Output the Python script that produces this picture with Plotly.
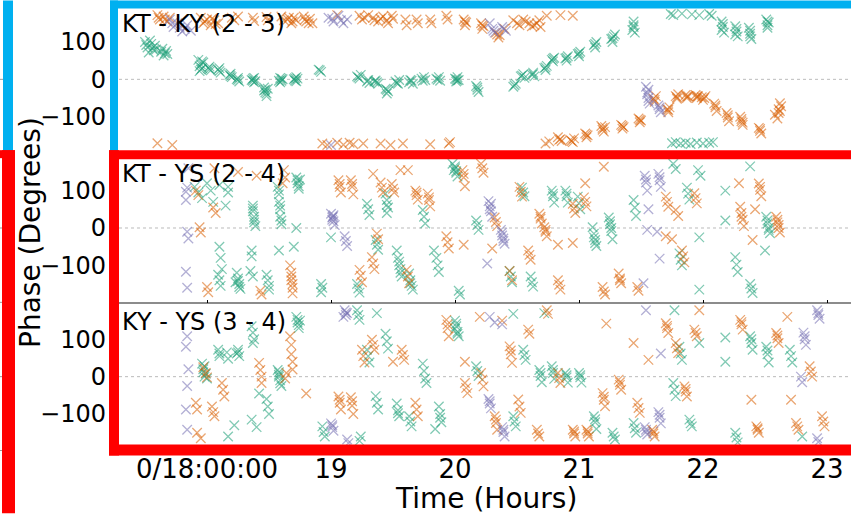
import plotly.graph_objects as go

# ---------------- data (time in hours, phase in degrees) ----------------
tick_vals = [18, 19, 20, 21, 22, 23]
tick_text = ["0/18:00:00", "19", "20", "21", "22", "23"]
panel_titles = ["KT - KY (2 - 3)", "KT - YS (2 - 4)", "KY - YS (3 - 4)"]

KTKY_green = [
    (17.50, 100), (17.52, 85), (17.55, 95), (17.57, 78), (17.53, 72), (17.58, 90),
    (17.51, 92), (17.56, 84), (17.54, 104), (17.59, 80), (17.63, 74), (17.68, 68),
    (17.64, 82), (17.66, 70), (17.65, 64), (17.67, 76),
    (17.93, 52), (17.95, 40), (17.96, 30), (17.94, 22), (17.97, 45), (17.94, 35), (17.96, 48), (17.95, 26),
    (18.01, 30), (18.03, 24), (18.02, 34), (18.02, 27), (18.09, 26), (18.11, 18), (18.10, 22), (18.10, 30),
    (18.18, 12), (18.20, 6), (18.19, 15), (18.19, 9), (18.24, 0), (18.26, -6), (18.25, 4), (18.25, -2),
    (18.36, -2), (18.38, -8), (18.37, 2), (18.39, -5), (18.37, -4), (18.38, 4),
    (18.46, -22), (18.47, -35), (18.48, -45), (18.47, -28), (18.46, -30), (18.48, -38), (18.49, -25),
    (18.58, -4), (18.60, 2), (18.59, -8), (18.61, 0), (18.59, 4), (18.60, -4),
    (18.70, 0), (18.72, 6), (18.73, 2), (18.71, -3), (18.71, 3), (18.72, -5),
    (18.90, 26), (18.92, 20), (18.91, 24),
    (19.21, 8), (19.23, 2), (19.24, 12), (19.22, 5),
    (19.29, -6), (19.31, -10), (19.35, -6), (19.38, -12), (19.36, -3), (19.30, -2), (19.37, -8),
    (19.44, -25), (19.46, -32), (19.45, -38), (19.45, -28),
    (19.52, -6), (19.54, -12), (19.55, -2), (19.53, -10),
    (19.63, -8), (19.65, -4), (19.66, -12), (19.64, -2),
    (19.73, 2), (19.75, 6), (19.76, -2), (19.74, -4), (19.85, 2), (19.87, 6), (19.88, -4), (19.86, -1),
    (20.00, 2), (20.02, 6), (20.03, -2), (20.01, -6), (20.01, 0), (20.02, -3),
    (20.17, -18), (20.18, -28), (20.19, -34), (20.18, -22),
    (20.47, -20), (20.49, -12), (20.48, -16), (20.53, 8), (20.55, 14), (20.56, 4), (20.54, 10),
    (20.62, 12), (20.64, 8), (20.63, 18), (20.63, 14),
    (20.72, 30), (20.74, 36), (20.73, 25), (20.73, 32), (20.78, 52), (20.80, 58), (20.79, 48), (20.79, 55),
    (20.89, 56), (20.91, 62), (20.90, 50), (20.90, 58), (20.99, 68), (21.01, 74), (21.00, 62), (21.00, 70),
    (21.12, 92), (21.14, 100), (21.13, 85), (21.13, 95),
    (21.26, 108), (21.28, 115), (21.27, 100), (21.29, 120), (21.27, 110),
    (21.44, 155), (21.44, 140), (21.45, 125), (21.43, 132), (21.44, 145),
    (21.74, 175), (21.76, 172), (21.83, 176), (21.91, 174), (21.97, 172), (22.05, 175), (22.07, 170),
    (22.15, 155), (22.16, 140), (22.17, 125), (22.15, 132), (22.16, 148),
    (22.26, 142), (22.27, 128), (22.28, 115), (22.26, 120), (22.27, 135),
    (22.37, 138), (22.38, 122), (22.39, 108), (22.38, 115), (22.38, 130),
    (22.51, 160), (22.53, 152), (22.52, 145), (22.52, 155), (22.52, 138),
    (21.75, -171), (21.78, -168), (21.82, -172), (21.86, -170), (21.90, -173),
    (21.95, -169), (22.00, -172), (22.05, -170), (22.08, -168),
]
KTKY_orange = [
    (17.60, 172), (17.62, 160), (17.65, 168), (17.68, 155), (17.70, 165), (17.61, 165), (17.66, 160),
    (17.95, 165), (17.97, 150), (18.00, 160), (18.03, 145), (18.06, 158), (18.09, 150),
    (17.98, 155), (18.04, 162), (18.07, 148),
    (18.20, 165), (18.22, 158), (18.25, 168), (18.37, 165), (18.38, 156), (18.48, 167),
    (18.49, 158), (18.60, 168), (18.62, 158),
    (18.65, 160), (18.68, 150), (18.70, 165), (18.72, 158), (18.66, 165), (18.69, 155),
    (18.78, 168), (18.80, 155), (18.83, 162), (18.85, 150), (18.79, 160), (18.82, 150),
    (19.05, 172), (19.23, 170), (19.25, 160), (19.27, 165), (19.30, 172),
    (19.34, 165), (19.38, 155), (19.42, 168), (19.46, 150), (19.50, 162),
    (19.35, 158), (19.40, 162), (19.45, 158), (19.49, 170),
    (19.60, 160), (19.61, 145), (19.69, 160), (19.70, 150), (19.80, 160), (19.81, 150),
    (19.93, 170), (19.94, 160),
    (20.07, 160), (20.08, 145), (20.09, 152), (20.08, 155), (20.21, 150), (20.22, 135), (20.23, 142), (20.22, 145),
    (20.33, 125), (20.35, 112), (20.36, 118), (20.40, 135), (20.34, 120),
    (20.47, 158), (20.52, 145), (20.57, 155), (20.62, 142), (20.66, 150), (20.69, 140),
    (20.50, 150), (20.55, 160), (20.60, 150), (20.64, 145), (20.68, 158),
    (20.74, 170), (20.85, 172), (20.95, 170),
    (17.60, -171), (17.72, -176),
    (18.93, -172), (18.97, -176), (19.05, -170), (19.10, -175), (19.15, -170), (19.18, -174),
    (19.26, -172), (19.40, -172), (19.48, -176), (19.58, -172), (19.80, -174), (19.95, -172), (19.96, -168),
    (20.73, -172), (20.76, -166), (20.83, -155), (20.84, -162), (20.86, -165), (20.85, -160),
    (20.93, -162), (20.95, -168), (20.96, -158), (20.94, -165),
    (21.05, -145), (21.06, -155), (21.07, -150), (21.06, -148),
    (21.18, -125), (21.19, -135), (21.20, -140), (21.21, -128), (21.19, -130),
    (21.34, -122), (21.35, -132), (21.36, -128), (21.35, -125),
    (21.48, -105), (21.49, -115), (21.50, -110), (21.49, -108),
    (21.60, -52), (21.61, -60), (21.62, -45), (21.61, -55),
    (21.71, -80), (21.72, -88), (21.73, -75), (21.72, -82),
    (21.78, -45), (21.79, -52), (21.80, -40), (21.79, -48),
    (21.86, -42), (21.87, -50), (21.88, -45), (21.87, -46),
    (21.94, -42), (21.95, -50), (21.96, -45), (21.95, -46),
    (21.99, -48), (22.00, -55), (22.02, -45), (22.01, -50),
    (22.09, -65), (22.10, -75), (22.11, -85), (22.10, -70),
    (22.19, -90), (22.20, -102), (22.21, -112), (22.20, -96),
    (22.30, -100), (22.31, -112), (22.32, -122), (22.31, -106), (22.32, -116),
    (22.45, -130), (22.46, -138), (22.47, -145), (22.46, -133),
    (22.58, -95), (22.60, -105), (22.61, -80), (22.62, -64), (22.63, -72), (22.61, -90), (22.62, -85),
]
KTKY_purple = [
    (17.70, 160), (17.73, 140), (17.76, 150), (17.80, 128), (17.84, 145), (17.87, 130),
    (17.72, 150), (17.78, 138), (17.82, 135),
    (18.98, 165), (19.02, 155), (19.06, 170), (19.10, 150), (19.13, 160), (19.01, 162), (19.08, 158),
    (19.00, -176),
    (20.28, 150), (20.30, 135), (20.32, 125), (20.38, 140), (20.41, 130), (20.31, 130), (20.39, 135),
    (21.54, -20), (21.55, -35), (21.56, -50), (21.57, -65), (21.56, -28), (21.55, -40), (21.56, -58),
    (21.64, -70), (21.65, -80), (21.66, -88), (21.65, -75),
]

KTYS_green = [
    (17.90, 110), (17.93, 95), (17.96, 80), (18.00, 120), (18.03, 100), (18.05, 70),
    (18.10, 115), (18.17, 110), (18.17, 95), (18.15, 60),
    (18.37, 60), (18.37, 45), (18.38, 30), (18.38, 15), (18.39, 5), (18.37, 52), (18.38, 22),
    (18.57, 110), (18.58, 90), (18.58, 70), (18.59, 50), (18.59, 30), (18.60, 10),
    (18.58, 100), (18.59, 60), (18.60, 20),
    (18.72, 135), (18.73, 120), (18.74, 105), (18.75, 130), (18.73, 128), (18.74, 112),
    (18.72, 0), (18.70, -50),
    (18.10, -50), (18.11, -80), (18.12, -110), (18.09, -125), (18.10, -140), (18.11, -155),
    (18.24, -120), (18.25, -135), (18.26, -150), (18.27, -163), (18.23, -145), (18.25, -142), (18.26, -158),
    (18.36, -60), (18.36, -76), (18.35, -115), (18.37, -130),
    (18.48, -125), (18.49, -140), (18.50, -155), (18.50, -165), (18.58, -60),
    (18.92, -150), (18.93, -160), (18.92, -172), (19.00, -25),
    (19.21, -150), (19.22, -162), (19.23, -173),
    (19.29, 65), (19.30, 50), (19.31, 35), (19.36, -32), (19.37, -45), (19.38, -58),
    (19.44, 92), (19.45, 75), (19.46, 55), (19.45, 40), (19.45, 62),
    (19.53, -60), (19.54, -80), (19.55, -100), (19.56, -120), (19.57, -130), (19.55, -90), (19.56, -110),
    (19.63, -122), (19.64, -140), (19.65, -155), (19.66, -165), (19.64, -148),
    (19.74, 48), (19.75, 30), (19.76, 12),
    (19.83, -60), (19.85, -80), (19.86, -100), (19.87, -118),
    (19.98, 172), (20.00, 160), (20.01, 148), (20.02, 138), (19.99, 155), (20.00, 165), (20.01, 152),
    (20.03, -168), (20.04, -178), (20.17, 20), (20.18, 8), (20.19, -5),
    (20.44, -115), (20.45, -130), (20.46, -145), (20.54, 108), (20.55, 95), (20.56, 85),
    (20.61, -130), (20.62, -145), (20.63, -157),
    (20.78, 100), (20.79, 85), (20.80, 68), (20.79, 92), (20.89, 100), (20.90, 85), (20.91, 68), (20.90, 92),
    (20.99, 84), (21.00, 66), (21.01, 50),
    (21.11, 2), (21.12, -15), (21.13, -32), (21.14, -48), (21.12, -25), (21.13, -40),
    (21.24, 28), (21.25, 10), (21.26, -8), (21.27, -30), (21.25, 18), (21.26, 0),
    (21.44, 75), (21.45, 55), (21.46, 32), (21.76, 172), (21.78, 158),
    (21.81, -68), (21.82, -85), (21.83, -100), (21.87, 108), (21.88, 92), (21.89, 76),
    (21.96, 155), (21.98, 140), (21.97, -165), (21.97, -25),
    (22.18, 100), (22.18, 20), (22.26, -78), (22.27, -98), (22.28, -118),
    (22.38, -150), (22.39, -162), (22.40, -174),
    (22.51, 30), (22.52, 12), (22.53, -5), (22.54, -14), (22.52, 20), (22.53, 0),
    (22.50, -60), (22.38, 165),
]
KTYS_orange = [
    (17.91, 100), (17.93, 88), (18.05, 55), (18.07, 40), (17.94, 2), (17.95, -12),
    (18.00, -158), (18.01, -172), (18.43, -168), (18.44, -178),
    (18.67, -100), (18.68, -120), (18.68, -140), (18.69, -160), (18.69, -175), (18.68, -130), (18.69, -150),
    (18.62, 155), (18.63, 135), (18.61, 120),
    (19.06, 128), (19.07, 110), (19.08, 95), (19.07, 118), (19.16, 128), (19.17, 110), (19.18, 90), (19.17, 118),
    (19.23, -112), (19.24, -128), (19.25, -145), (19.33, -78), (19.34, -95), (19.35, -110),
    (19.37, -15), (19.38, -30), (19.40, 122), (19.41, 108), (19.42, 95),
    (19.49, 118), (19.50, 105), (19.51, 95), (19.56, 155),
    (19.68, 100), (19.69, 88), (19.70, 76), (19.69, 95), (19.78, 92), (19.79, 75), (19.80, 58), (19.79, 82),
    (19.93, -22), (19.94, -38), (19.95, -55), (19.61, -112), (19.62, -130), (19.63, -148),
    (20.06, 155), (20.07, 135), (20.08, 112), (20.07, 145), (20.21, 172), (20.22, 160), (20.23, 148),
    (20.32, 28), (20.33, 16), (20.34, 5), (20.44, -115), (20.46, -140),
    (20.52, 110), (20.53, 97), (20.54, 84), (20.59, -60), (20.60, -72), (20.61, -85),
    (20.68, 38), (20.69, 25), (20.70, 12), (20.69, 30), (20.72, 2), (20.73, -10), (20.74, -22), (20.73, -5),
    (20.83, -140), (20.84, -152), (20.85, -165),
    (20.95, 65), (20.96, 52), (20.97, 40), (21.04, 82), (21.05, 70), (21.06, 58),
    (21.19, -158), (21.20, -170), (21.21, -178), (21.32, -122), (21.33, -135), (21.34, -148), (21.33, -140),
    (21.47, -158), (21.48, -168), (21.20, 164),
    (21.70, 84), (21.71, 70), (21.72, 57), (21.78, 48), (21.80, 32),
    (21.83, -60), (21.84, -76), (21.85, -92), (21.93, 93), (21.94, 80), (21.95, 66),
    (22.30, 57), (22.31, 40), (22.32, 22), (22.33, 5), (22.31, 30),
    (22.45, 119), (22.46, 102), (22.47, 85), (22.46, 110),
    (22.59, 30), (22.60, 15), (22.61, 0), (22.62, -12), (22.60, 22), (22.61, 8),
    (21.05, 120), (21.70, -22), (21.75, -30), (20.83, -45), (20.95, -40), (20.30, -55),
    (20.07, -45), (19.62, 155), (19.34, 145), (22.29, 120), (22.40, -32), (22.42, 50),
    (18.06, 160), (18.25, 150), (18.40, 140),
]
KTYS_purple = [
    (17.83, 97), (17.84, 108), (17.83, 75), (17.84, -10), (17.85, -28), (17.83, -117),
    (17.84, -160), (17.85, 160),
    (19.00, 38), (19.01, 28), (19.02, 18), (19.03, 8), (19.015, 30), (19.01, 22), (19.02, 34),
    (19.11, -22), (19.12, -35), (19.13, -48),
    (20.27, 72), (20.28, 58), (20.29, 45), (20.30, 30), (20.28, 50), (20.29, 65),
    (20.37, -5), (20.38, -20), (20.39, -35), (20.40, -42), (20.38, -12), (20.39, -28), (20.26, -95),
    (21.53, 140), (21.54, 122), (21.55, 100), (21.54, 130),
    (21.64, 145), (21.65, 128), (21.66, 110), (21.65, 136),
    (21.52, -148), (21.55, -5), (21.63, -10), (21.65, -82), (21.56, 50),
]

KYYS_green = [
    (17.96, 35), (17.97, 20), (17.99, 8), (18.00, -5), (17.98, 28), (17.97, 12), (17.98, 0),
    (18.09, 72), (18.10, 55), (18.10, 62), (18.16, 65), (18.17, 48), (18.25, 72), (18.26, 55), (18.24, 62), (18.25, 65),
    (18.36, 135), (18.37, 118), (18.38, 100), (18.37, 90),
    (18.48, -60), (18.49, -80), (18.50, -100),
    (18.57, 18), (18.58, 5), (18.59, -10), (18.60, -25), (18.58, 0), (18.58, 12), (18.59, -18),
    (18.72, 160), (18.73, 145), (18.74, 130), (18.75, 150), (18.73, 152), (18.74, 138),
    (18.36, -115), (18.42, -45), (18.17, -160), (18.22, -130), (18.40, -135),
    (18.93, -133), (18.94, -148), (18.95, -160),
    (19.21, 178), (19.22, 165), (19.23, 152), (19.24, -160), (19.23, -172),
    (19.29, 72), (19.30, 55), (19.31, 38), (19.36, -52), (19.37, -70), (19.38, -88),
    (19.44, 115), (19.45, 95), (19.46, 75), (19.53, -72), (19.54, -90), (19.55, -106), (19.54, -98),
    (19.63, -106), (19.64, -120), (19.65, -133),
    (19.74, 35), (19.75, 15), (19.76, -5), (19.77, -17),
    (19.87, -80), (19.88, -100), (19.89, -122), (19.88, -110), (19.84, -140),
    (20.00, 150), (20.01, 135), (20.02, 120), (20.03, 108), (20.00, 128), (20.01, 142), (20.02, 115),
    (20.17, 28), (20.18, 15), (20.19, 2),
    (20.47, -106), (20.48, -120), (20.49, -133), (20.55, 72), (20.56, 58), (20.57, 45),
    (20.68, 18), (20.69, 2), (20.70, -15), (20.69, 10), (20.78, 28), (20.79, 10), (20.80, -6), (20.79, 18),
    (20.89, 10), (20.90, -2), (20.91, -16), (20.90, 4), (21.00, 10), (21.01, -2), (21.02, -16), (21.01, 4),
    (21.12, -106), (21.13, -122), (21.14, -140), (21.13, -114), (21.27, -150), (21.28, -160), (21.29, -168),
    (21.44, -124), (21.45, -138), (21.46, -150),
    (21.76, -17), (21.77, -35), (21.78, -52), (21.81, 80), (21.82, 62), (21.83, 45),
    (21.89, -115), (21.90, -125), (21.91, -133),
    (22.26, -150), (22.27, -163), (22.28, -176), (22.38, 108), (22.39, 90), (22.40, 72), (22.39, 100),
    (22.51, 80), (22.52, 60), (22.53, 38), (22.52, 70), (22.70, 72), (22.71, 55), (22.72, 38),
    (22.80, -160), (22.18, 105), (22.18, 40), (21.97, 90), (21.77, 178), (20.72, 170),
    (20.47, 168), (19.37, 170),
]
KYYS_orange = [
    (17.91, -70), (17.92, -88), (18.04, -80), (18.05, -95), (18.06, -106),
    (17.97, 25), (17.99, 10), (18.00, -2), (18.12, -17), (18.13, -35), (18.14, -53),
    (17.92, -150), (17.95, -165),
    (18.42, 37), (18.43, 18), (18.44, 0), (18.44, -17),
    (18.67, 108), (18.68, 85), (18.68, 60), (18.69, 40), (18.69, 19), (18.64, 10), (18.63, -5),
    (19.06, -53), (19.07, -70), (19.08, -88), (19.07, -62), (19.16, -55), (19.17, -78), (19.18, -100), (19.17, -66),
    (19.25, 72), (19.26, 55), (19.27, 38), (19.33, 99), (19.34, 85), (19.35, 72),
    (19.57, 72), (19.58, 58), (19.59, 45), (19.68, -70), (19.69, -88), (19.70, -106),
    (19.93, 152), (19.94, 130), (19.95, 108), (19.94, 140), (20.08, -17), (20.09, -30), (20.10, -44),
    (20.21, 10), (20.22, -8), (20.23, -26), (20.32, -106), (20.33, -124), (20.34, -142), (20.33, -115),
    (20.44, 81), (20.45, 60), (20.46, 37), (20.45, 70), (20.51, -61), (20.52, -80), (20.53, -97),
    (20.59, 126), (20.60, 115), (20.66, -142), (20.67, -152), (20.68, -160),
    (20.74, 178), (20.75, 168), (20.83, 10), (20.84, -4), (20.85, -17),
    (20.95, -142), (20.96, -152), (20.97, -160), (20.96, -147),
    (21.06, -142), (21.07, -152), (21.08, -160), (21.07, -147),
    (21.19, -44), (21.20, -62), (21.21, -79), (21.20, -54), (21.32, -8), (21.33, -22), (21.34, -35), (21.33, -15),
    (21.47, -70), (21.48, -84), (21.49, -97), (21.59, -142), (21.60, -152), (21.61, -160), (21.60, -147),
    (21.70, 143), (21.71, 130), (21.72, 117), (21.71, 136), (21.78, 90), (21.79, 76), (21.80, 63),
    (21.85, -26), (21.86, -40), (21.87, -53), (21.86, -33), (21.93, 126), (21.94, 117), (21.95, 108),
    (22.30, 152), (22.31, 140), (22.32, 126), (22.31, 146),
    (22.43, -133), (22.44, -142), (22.45, -150), (22.44, -138),
    (22.59, 117), (22.60, 103), (22.61, 90), (22.60, 110), (22.75, -124), (22.76, -133), (22.77, -142),
    (22.86, 28), (22.87, 14), (22.88, 0), (22.96, -106), (22.97, -120), (22.98, -133),
    (21.97, 178), (22.68, 160), (22.39, -62), (22.71, -62), (21.22, 142), (21.44, 90),
    (21.56, 45), (20.08, 40), (20.20, 160), (20.38, 150), (19.50, 40), (18.80, -45),
]
KYYS_purple = [
    (17.84, 108), (17.83, 80), (17.85, 20), (17.84, -25), (17.83, -88), (17.84, -142),
    (19.11, 178), (19.12, 165), (19.13, 170), (19.10, 160), (19.12, 172),
    (19.00, -125), (19.01, -135), (19.02, -145), (19.01, -130), (19.13, -168), (19.14, -178),
    (20.27, -60), (20.28, -72), (20.29, -85), (20.28, -66),
    (20.38, -135), (20.39, -148), (20.40, -160), (20.39, -142),
    (21.53, -135), (21.54, -148), (21.55, -155), (21.54, -142),
    (21.64, -95), (21.65, -110), (21.66, -125), (21.65, -102),
    (21.66, 62), (21.54, 178), (22.81, 118), (22.82, 100), (22.83, 85), (22.82, 108),
    (22.92, 178), (22.93, 165), (22.94, 155), (22.93, 170), (22.92, -165), (22.93, -175),
    (22.79, 0), (22.80, -15), (20.28, 160), (20.32, 145), (20.38, 140),
]

GREEN, ORANGE, PURPLE = "rgba(27,158,119,0.55)", "rgba(217,95,2,0.55)", "rgba(117,112,179,0.55)"
panels = [
    [(KTKY_green, GREEN), (KTKY_orange, ORANGE), (KTKY_purple, PURPLE)],
    [(KTYS_green, GREEN), (KTYS_orange, ORANGE), (KTYS_purple, PURPLE)],
    [(KYYS_green, GREEN), (KYYS_orange, ORANGE), (KYYS_purple, PURPLE)],
]

# ---------------- geometry ----------------
W, H = 851, 514
ML, MR, MT, MB = 119, 0, 4.5, 62.5
PW, PH = W - ML - MR, H - MT - MB
def px2x(px):
    return (px - ML) / PW
def py2y(py):
    return (H - MB - py) / PH

XR = [18 - (207 - ML) / 124.0, 18 + (W - 207) / 124.0]
YR = [-199, 199]
domains = [[2 / 3, 1.0], [1 / 3, 2 / 3], [0.0, 1 / 3]]

fig = go.Figure()
for i, series in enumerate(panels):
    xa = "x" if i == 0 else f"x{i+1}"
    ya = "y" if i == 0 else f"y{i+1}"
    for pts, col in series:
        fig.add_trace(go.Scatter(
            x=[p[0] for p in pts], y=[p[1] for p in pts], xaxis=xa, yaxis=ya,
            mode="markers", showlegend=False,
            marker=dict(symbol="x-thin", size=9.5, color=col, line=dict(width=1.3, color=col)),
        ))

font_main = "DejaVu Sans"
layout = dict(
    width=W, height=H, margin=dict(l=ML, r=MR, t=MT, b=MB),
    paper_bgcolor="white", plot_bgcolor="white",
    font=dict(family=font_main, color="black"),
)
for i in range(3):
    xk = "xaxis" if i == 0 else f"xaxis{i+1}"
    yk = "yaxis" if i == 0 else f"yaxis{i+1}"
    ya = "y" if i == 0 else f"y{i+1}"
    extra = {} if i == 0 else {"matches": "x"}
    layout[xk] = dict(
        range=XR, domain=[0, 1], anchor=ya, tickvals=tick_vals, ticktext=tick_text,
        showticklabels=(i == 2), ticks="inside", ticklen=3, tickcolor="black",
        showgrid=False, zeroline=False, showline=True, linecolor="#8c8c8c", linewidth=1.5,
        tickfont=dict(size=26, family=font_main), ticklabelstandoff=-6, **extra,
    )
    layout[yk] = dict(
        range=YR, domain=domains[i], anchor="x" if i == 0 else f"x{i+1}",
        tickvals=[-100, 0, 100], ticks="", showgrid=False, zeroline=False,
        showline=False, tickfont=dict(size=24, family=font_main), ticklabelstandoff=12,
    )
fig.update_layout(**layout)

shapes = []
# dotted zero lines
for i in range(3):
    xa = "x" if i == 0 else f"x{i+1}"
    ya = "y" if i == 0 else f"y{i+1}"
    shapes.append(dict(type="line", xref=f"{xa} domain", yref=ya, x0=0, x1=1, y0=0, y1=0,
                       line=dict(color="#aaaaaa", width=0.8, dash="dot"), layer="below"))
# fragments of neighbouring frame at far left
for py, dash in [(79, "dot"), (228, "dot"), (302.5, "solid"), (377, "dot"), (451, "solid")]:
    shapes.append(dict(type="line", xref="paper", yref="paper", x0=px2x(0), x1=px2x(3),
                       y0=py2y(py), y1=py2y(py), line=dict(color="#999999", width=1, dash=dash)))

BLUE, RED = "#00b0f0", "#ff0000"
def box(x0, x1, y0, y1, col):
    return dict(type="rect", xref="paper", yref="paper", x0=px2x(x0), x1=px2x(x1),
                y0=py2y(y1), y1=py2y(y0), fillcolor=col, line=dict(width=0), layer="above")
shapes += [
    box(110, 118, 0, 152, BLUE), box(110, W, 0, 8, BLUE), box(3, 13, 0, 152, BLUE),
    box(109, W, 150, 159, RED), box(109, 119, 150, 456, RED), box(109, W, 445, 456, RED),
    box(2, 15, 150, H, RED), box(0, 15, 150, 158, RED),
]
fig.update_layout(shapes=shapes)

ann = []
for i, (t, cy) in enumerate(zip(panel_titles, [24, 174, 322])):
    ann.append(dict(text=t, xref="paper", yref="paper", x=px2x(120), y=py2y(cy),
                    xanchor="left", yanchor="middle", showarrow=False,
                    font=dict(size=24, family=font_main, color="black")))
ann.append(dict(text="Phase (Degrees)", xref="paper", yref="paper", x=px2x(31), y=py2y(233),
                xanchor="center", yanchor="middle", textangle=-90, showarrow=False,
                font=dict(size=28, family=font_main, color="black")))
ann.append(dict(text="Time (Hours)", xref="paper", yref="paper", x=px2x(486), y=py2y(499),
                xanchor="center", yanchor="middle", showarrow=False,
                font=dict(size=28, family=font_main, color="black")))
fig.update_layout(annotations=ann)

fig.write_html("out.html")
